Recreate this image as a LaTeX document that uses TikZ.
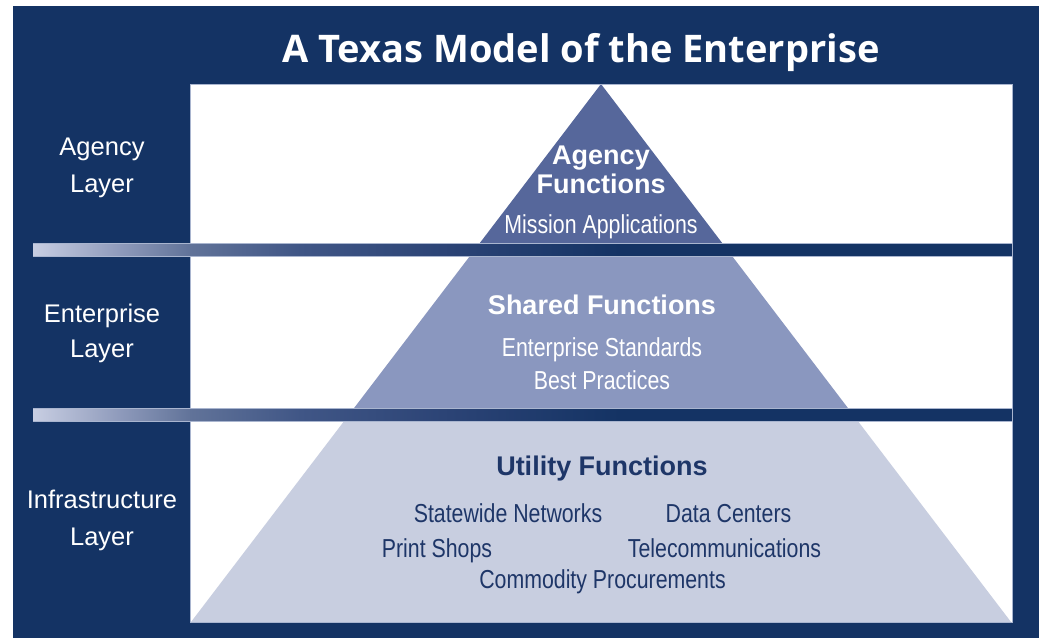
\documentclass[tikz,border=0pt]{standalone}
\usepackage{graphicx}
\usepackage{fontspec}
\setmainfont{Liberation Sans}
\newfontfamily\narrowfont[FakeStretch=0.82]{Liberation Sans}
\newfontfamily\titlefont{Open Sans}
\definecolor{navy}{HTML}{143364}
\definecolor{topc}{HTML}{56679B}
\definecolor{midc}{HTML}{8A97BF}
\definecolor{botc}{HTML}{C8CEE0}
\definecolor{txtnavy}{HTML}{1E3668}
\definecolor{panelline}{HTML}{A9B5CF}
\definecolor{g0}{HTML}{C8CEE2}
\definecolor{g1}{HTML}{8E9ABB}
\definecolor{g2}{HTML}{617399}
\definecolor{g3}{HTML}{405686}
\definecolor{g4}{HTML}{2B4375}
\begin{document}
\begin{tikzpicture}[x=1pt,y=-1pt,
  layerlbl/.style={text=white,font=\fontsize{25.5}{30}\selectfont,anchor=base,inner sep=0pt},
  boldlbl/.style={font=\fontsize{27}{32}\selectfont\bfseries,anchor=base,inner sep=0pt},
  narrowlbl/.style={font=\narrowfont\fontsize{26}{30}\selectfont,anchor=base,inner sep=0pt},
  titlelbl/.style={text=white,anchor=base,inner sep=0pt}]
\useasboundingbox (0,0) rectangle (1039,638);
\fill[white] (0,0) rectangle (1039,638);
\fill[navy] (13,6) rectangle (1039,638);
\fill[white] (190,84) rectangle (1012,622);
% pyramid layers
\begin{scope}
  \clip (190,84) rectangle (1012,249);
  \fill[topc] (601,84) -- (191,622) -- (1011,622) -- cycle;
\end{scope}
\begin{scope}
  \clip (190,249) rectangle (1012,414);
  \fill[midc] (601,84) -- (191,622) -- (1011,622) -- cycle;
\end{scope}
\begin{scope}
  \clip (190,414) rectangle (1012,622);
  \fill[botc] (601,84) -- (191,622) -- (1011,622) -- cycle;
\end{scope}
\draw[panelline,line width=0.8pt] (190,84) rectangle (1012,622);
% bands
\foreach \ya/\yb in {243/256, 408/421}{
  \fill[navy] (190,\ya) rectangle (1012,\yb);
  \shade[left color=g0,right color=g1] (33,\ya) rectangle (120.5,\yb);
  \shade[left color=g1,right color=g2] (120,\ya) rectangle (190.5,\yb);
  \shade[left color=g2,right color=g3] (190,\ya) rectangle (300.5,\yb);
  \shade[left color=g3,right color=g4] (300,\ya) rectangle (450.5,\yb);
  \shade[left color=g4,right color=navy] (450,\ya) rectangle (620.5,\yb);
  \draw[panelline,line width=0.5pt] (33,\ya) -- (1012,\ya) (33,\yb) -- (1012,\yb);
}
% title
\node[titlelbl] (title) at (581,62) {\resizebox{597pt}{!}{\titlefont\bfseries A Texas Model of the Enterprise}};
% left labels
\node[layerlbl] (ag1) at (102,155) {Agency};
\node[layerlbl] (ag2) at (102,192) {Layer};
\node[layerlbl] (en1) at (102,322) {Enterprise};
\node[layerlbl] (en2) at (102,357) {Layer};
\node[layerlbl] (in1) at (102,508) {Infrastructure};
\node[layerlbl] (in2) at (102,545) {Layer};
% agency functions
\node[boldlbl,text=white] (af1) at (601,164) {Agency};
\node[boldlbl,text=white] (af2) at (601,193) {Functions};
\node[narrowlbl,text=white] (mis) at (601,233) {Mission Applications};
% shared functions
\node[boldlbl,text=white] (sf) at (602,314) {Shared Functions};
\node[narrowlbl,text=white] (es) at (602,356) {Enterprise Standards};
\node[narrowlbl,text=white] (bp) at (602,389) {Best Practices};
% utility functions
\node[boldlbl,text=txtnavy] (uf) at (602,475) {Utility Functions};
\node[narrowlbl,text=txtnavy] (sn) at (508,522) {Statewide Networks};
\node[narrowlbl,text=txtnavy] (dc) at (728.5,522) {Data Centers};
\node[narrowlbl,text=txtnavy] (ps) at (437,557) {Print Shops};
\node[narrowlbl,text=txtnavy] (tc) at (724.5,557) {Telecommunications};
\node[narrowlbl,text=txtnavy] (cp) at (602.5,588) {Commodity Procurements};
\end{tikzpicture}
\end{document}
